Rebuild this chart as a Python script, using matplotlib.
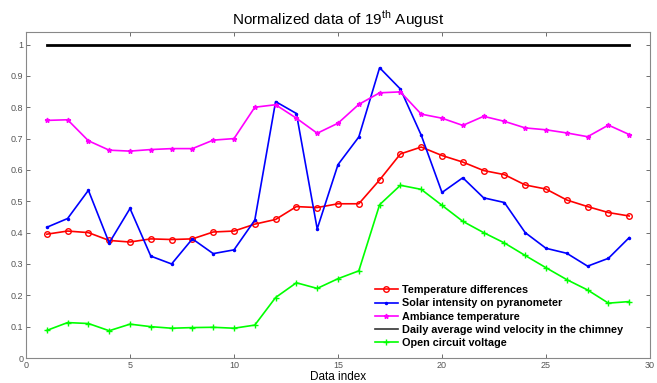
import numpy as np
import matplotlib.pyplot as plt

plt.rcParams['font.family'] = ['Liberation Sans', 'DejaVu Sans']
plt.rcParams['mathtext.fontset'] = 'custom'
plt.rcParams['mathtext.rm'] = 'Liberation Sans'

# data
idx = np.arange(1, 30)
temp_diff = [0.395, 0.405, 0.400, 0.375, 0.370, 0.380, 0.378, 0.380, 0.402, 0.405,
             0.427, 0.442, 0.483, 0.480, 0.492, 0.492, 0.568, 0.651, 0.673, 0.646,
             0.625, 0.598, 0.585, 0.552, 0.539, 0.504, 0.483, 0.464, 0.453]
solar = [0.417, 0.445, 0.535, 0.367, 0.477, 0.325, 0.300, 0.380, 0.333, 0.345,
         0.440, 0.818, 0.780, 0.412, 0.617, 0.705, 0.926, 0.858, 0.711, 0.528,
         0.575, 0.511, 0.496, 0.400, 0.350, 0.334, 0.293, 0.318, 0.384]
ambiance = [0.758, 0.760, 0.693, 0.663, 0.660, 0.665, 0.668, 0.668, 0.695, 0.700,
            0.800, 0.808, 0.765, 0.717, 0.749, 0.809, 0.846, 0.849, 0.778, 0.765,
            0.742, 0.771, 0.755, 0.734, 0.728, 0.718, 0.706, 0.743, 0.713]
wind = [0.997] * 29
voltage = [0.088, 0.113, 0.110, 0.087, 0.108, 0.100, 0.095, 0.097, 0.098, 0.095,
           0.105, 0.193, 0.240, 0.222, 0.253, 0.278, 0.489, 0.551, 0.538, 0.487,
           0.436, 0.400, 0.367, 0.327, 0.288, 0.250, 0.217, 0.175, 0.180]

labels = ['Temperature differences', 'Solar intensity on pyranometer',
          'Ambiance temperature', 'Daily average wind velocity in the chimney',
          'Open circuit voltage']

fig = plt.figure(figsize=(6.57, 3.83), dpi=100)
ax = fig.add_axes([26/657, 1 - 358/383, 624/657, 326/383])

ax.plot(idx, temp_diff, color='#ff0000', marker='o', ms=4, mfc='none', lw=1.2, label=labels[0])
ax.plot(idx, solar, color='#0000ff', marker='.', ms=3, lw=1.2, label=labels[1])
ax.plot(idx, ambiance, color='#ff00ff', marker='*', ms=3.5, lw=1.2, label=labels[2])
ax.plot(idx, wind, color='black', lw=2, label=labels[3])
ax.plot(idx, voltage, color='#00ff00', marker='+', ms=5, lw=1.2, label=labels[4])

ax.set_xlim(0, 30)
ax.set_ylim(0, 1.04)
ax.set_xticks(np.arange(0, 31, 5))
ax.set_yticks(np.arange(0, 1.01, 0.1))
ax.set_yticklabels(['0', '0.1', '0.2', '0.3', '0.4', '0.5', '0.6', '0.7', '0.8', '0.9', '1'])
ax.tick_params(direction='in', top=True, right=True, labelsize=6.5,
               colors='#555555', length=3, width=0.6, pad=2)
for s in ax.spines.values():
    s.set_color('#888888')
    s.set_linewidth(0.8)

ax.set_title('Normalized data of 19$^{\\mathrm{th}}$ August', fontsize=11, pad=5)
ax.set_xlabel('Data index', fontsize=8.5, labelpad=1)

leg = ax.legend(loc='lower left', bbox_to_anchor=(0.543, 0.0), frameon=False,
                prop={'weight': 'bold', 'size': 7.8}, handlelength=2.2,
                handletextpad=0.3, labelspacing=0.3)
leg.legend_handles[3].set_linewidth(1.2)
leg.legend_handles[3].set_color('#333333')

fig.savefig('out.png', dpi=100)
